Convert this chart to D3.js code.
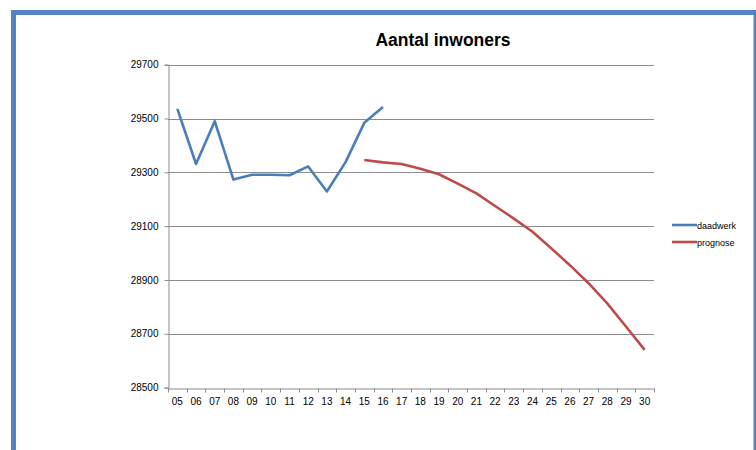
<!DOCTYPE html>
<html>
<head>
<meta charset="utf-8">
<script src="https://cdn.jsdelivr.net/npm/d3@7"></script>
<style>
  html, body { margin: 0; padding: 0; background: #fff; }
  svg { display: block; }
</style>
</head>
<body>
<svg id="chart" width="756" height="450"></svg>
<script>
// Jaren (twee cijfers) op de categorie-as
const years = ["05","06","07","08","09","10","11","12","13","14","15","16","17",
               "18","19","20","21","22","23","24","25","26","27","28","29","30"];

// Werkelijk aantal inwoners 2005-2016
const daadwerkYears = ["05","06","07","08","09","10","11","12","13","14","15","16"];
const daadwerk = [29536, 29331, 29490, 29273, 29291, 29291, 29289, 29322, 29229, 29338, 29484, 29543];

// Prognose 2015-2030
const prognoseYears = ["15","16","17","18","19","20","21","22","23","24","25","26","27","28","29","30"];
const prognose = [29346, 29337, 29331, 29313, 29293, 29258, 29222, 29175, 29128, 29079, 29018, 28955, 28888, 28813, 28727, 28640];

const yTicks = [28500, 28700, 28900, 29100, 29300, 29500, 29700];

const seriesNames = ["daadwerk", "prognose"];
const seriesColors = ["#4a7ebb", "#be4b48"];

const svg = d3.select("#chart");
const font = "'Liberation Sans', Arial, sans-serif";

// Kader rond de grafiek
svg.append("rect")
  .attr("x", 13.5).attr("y", 12.5)
  .attr("width", 742.5).attr("height", 460)
  .attr("fill", "none")
  .attr("stroke", "#5582c2")
  .attr("stroke-width", 5);

const plot = { left: 168, right: 654, top: 64.7, bottom: 387.6 };

const x = d3.scaleBand().domain(years).range([plot.left, plot.right]);
const y = d3.scaleLinear().domain([28500, 29700]).range([plot.bottom, plot.top]);

// Titel
svg.append("text")
  .attr("x", 443).attr("y", 46)
  .attr("text-anchor", "middle")
  .attr("font-family", font)
  .attr("font-weight", "bold")
  .attr("font-size", 17.5)
  .attr("fill", "#000")
  .text("Aantal inwoners");

// Horizontale rasterlijnen
svg.append("g")
  .selectAll("line")
  .data(yTicks.slice(1))
  .join("line")
  .attr("x1", plot.left).attr("x2", plot.right)
  .attr("y1", d => Math.round(y(d)) + 0.5).attr("y2", d => Math.round(y(d)) + 0.5)
  .attr("stroke", "#8c8c8c")
  .attr("stroke-width", 1);

// Y-as
const yAxis = svg.append("g")
  .attr("transform", `translate(${plot.left + 0.5},0)`)
  .call(d3.axisLeft(y).tickValues(yTicks).tickSize(4).tickPadding(6).tickFormat(d3.format("d")));
yAxis.select(".domain").attr("stroke", "#8c8c8c");
yAxis.selectAll(".tick line").attr("stroke", "#8c8c8c");
yAxis.selectAll(".tick text")
  .attr("font-family", font).attr("font-size", 10).attr("fill", "#000");

// X-as met streepjes tussen de categorieën
const xAxis = svg.append("g")
  .attr("transform", `translate(0,${Math.round(plot.bottom) + 0.5})`)
  .call(d3.axisBottom(x).tickSize(0).tickPadding(9));
xAxis.select(".domain").attr("stroke", "#8c8c8c");
xAxis.selectAll(".tick text")
  .attr("font-family", font).attr("font-size", 10).attr("fill", "#000");
xAxis.selectAll("line.sep")
  .data(years.concat(["end"]))
  .join("line")
  .attr("class", "sep")
  .attr("x1", (d, i) => Math.round(plot.left + i * x.step()) + 0.5)
  .attr("x2", (d, i) => Math.round(plot.left + i * x.step()) + 0.5)
  .attr("y1", 0).attr("y2", 4)
  .attr("stroke", "#8c8c8c");

// Lijnen
const line = d3.line()
  .x(d => x(d[0]) + x.bandwidth() / 2)
  .y(d => y(d[1]));

const seriesData = [
  d3.zip(daadwerkYears, daadwerk),
  d3.zip(prognoseYears, prognose)
];

svg.append("g")
  .selectAll("path")
  .data(seriesData)
  .join("path")
  .attr("d", line)
  .attr("fill", "none")
  .attr("stroke", (d, i) => seriesColors[i])
  .attr("stroke-width", 2.6)
  .attr("stroke-linejoin", "round");

// Legenda
const legend = svg.append("g")
  .selectAll("g")
  .data(seriesNames)
  .join("g")
  .attr("transform", (d, i) => `translate(672,${225 + i * 17})`);
legend.append("line")
  .attr("x1", 0).attr("x2", 25)
  .attr("stroke", (d, i) => seriesColors[i])
  .attr("stroke-width", 2.6);
legend.append("text")
  .attr("x", 25).attr("y", 3.5)
  .attr("font-family", font).attr("font-size", 9)
  .attr("fill", "#000")
  .text(d => d);
</script>
</body>
</html>
